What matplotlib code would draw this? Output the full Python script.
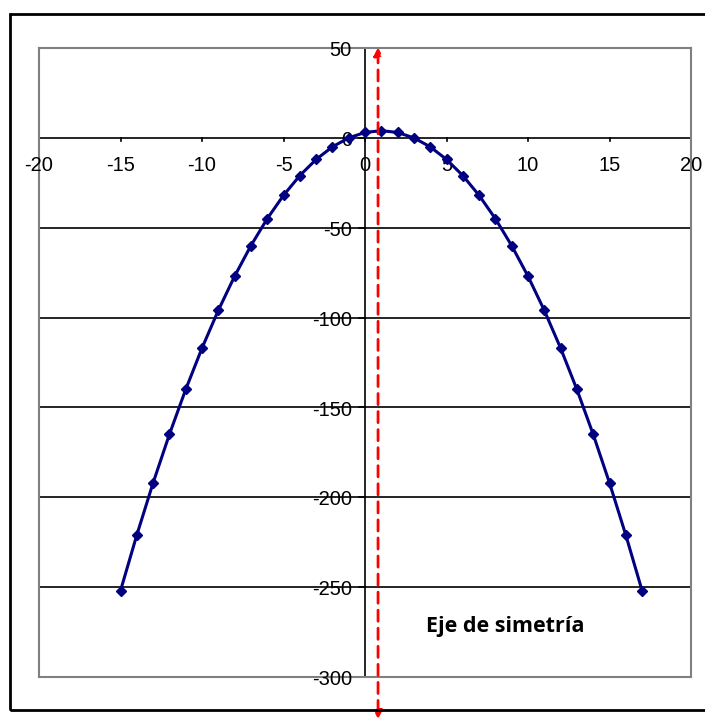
import matplotlib.pyplot as plt
from matplotlib.patches import Rectangle

x = [-15, -14, -13, -12, -11, -10, -9, -8, -7, -6, -5, -4, -3, -2, -1, 0,
     1, 2, 3, 4, 5, 6, 7, 8, 9, 10, 11, 12, 13, 14, 15, 16, 17]
y = [-252, -221, -192, -165, -140, -117, -96, -77, -60, -45, -32, -21, -12,
     -5, 0, 3, 4, 3, 0, -5, -12, -21, -32, -45, -60, -77, -96, -117, -140,
     -165, -192, -221, -252]
x_ticks = [-20, -15, -10, -5, 0, 5, 10, 15, 20]
y_ticks = [50, 0, -50, -100, -150, -200, -250, -300]
axis_x = 0.8
label = "Eje de simetría"

plt.rcParams['font.family'] = ['Liberation Sans', 'DejaVu Sans']

fig = plt.figure(figsize=(7.05, 7.25), dpi=100)
# outer chart border
fig.patches.append(Rectangle((10 / 705, 1 - 710 / 725), 1.0, (710 - 14) / 725,
                             transform=fig.transFigure, fill=False,
                             edgecolor='black', linewidth=2, clip_on=False))

ax = fig.add_axes([39 / 705, 48 / 725, 652 / 705, 629 / 725])
ax.set_xlim(-20, 20)
ax.set_ylim(-300, 50)

for spine in ax.spines.values():
    spine.set_color('#808080')
    spine.set_linewidth(1.5)

# gridlines
for v in y_ticks[2:-1]:
    ax.axhline(v, color='black', linewidth=1.2, zorder=1)

# axes through origin
ax.axhline(0, color='black', linewidth=1.2, zorder=1)
ax.axvline(0, color='black', linewidth=1.2, zorder=1)
ax.set_xticks([])
ax.set_yticks([])
for v in x_ticks:
    ax.plot([v, v], [0, -2], color='black', linewidth=1.2, clip_on=False)
    ax.text(v, -10, str(v), ha='center', va='top', fontsize=14.5)
for v in y_ticks:
    ax.plot([0, -0.35], [v, v], color='black', linewidth=1.2, clip_on=False)
    ax.text(-0.8, v - 1.5, str(v), ha='right', va='center', fontsize=14.5)

ax.plot(x, y, color='#000080', linewidth=2.2, marker='D', markersize=5.5,
        zorder=3)

# symmetry axis
ax.annotate('', xy=(axis_x, 52), xytext=(axis_x, 10),
            arrowprops=dict(arrowstyle='-|>', color='red', lw=2,
                            linestyle=(0, (4, 2.5)), mutation_scale=12),
            annotation_clip=False, zorder=4)
ax.annotate('', xy=(axis_x, -325), xytext=(axis_x, 10),
            arrowprops=dict(arrowstyle='-|>', color='red', lw=2,
                            linestyle=(0, (4, 2.5)), mutation_scale=12),
            annotation_clip=False, zorder=4)

ax.text(3.75, -272, label, ha='left', va='center', fontsize=15.5,
        fontweight='bold', family=['Open Sans', 'DejaVu Sans'])

fig.savefig("out.png", dpi=100)
